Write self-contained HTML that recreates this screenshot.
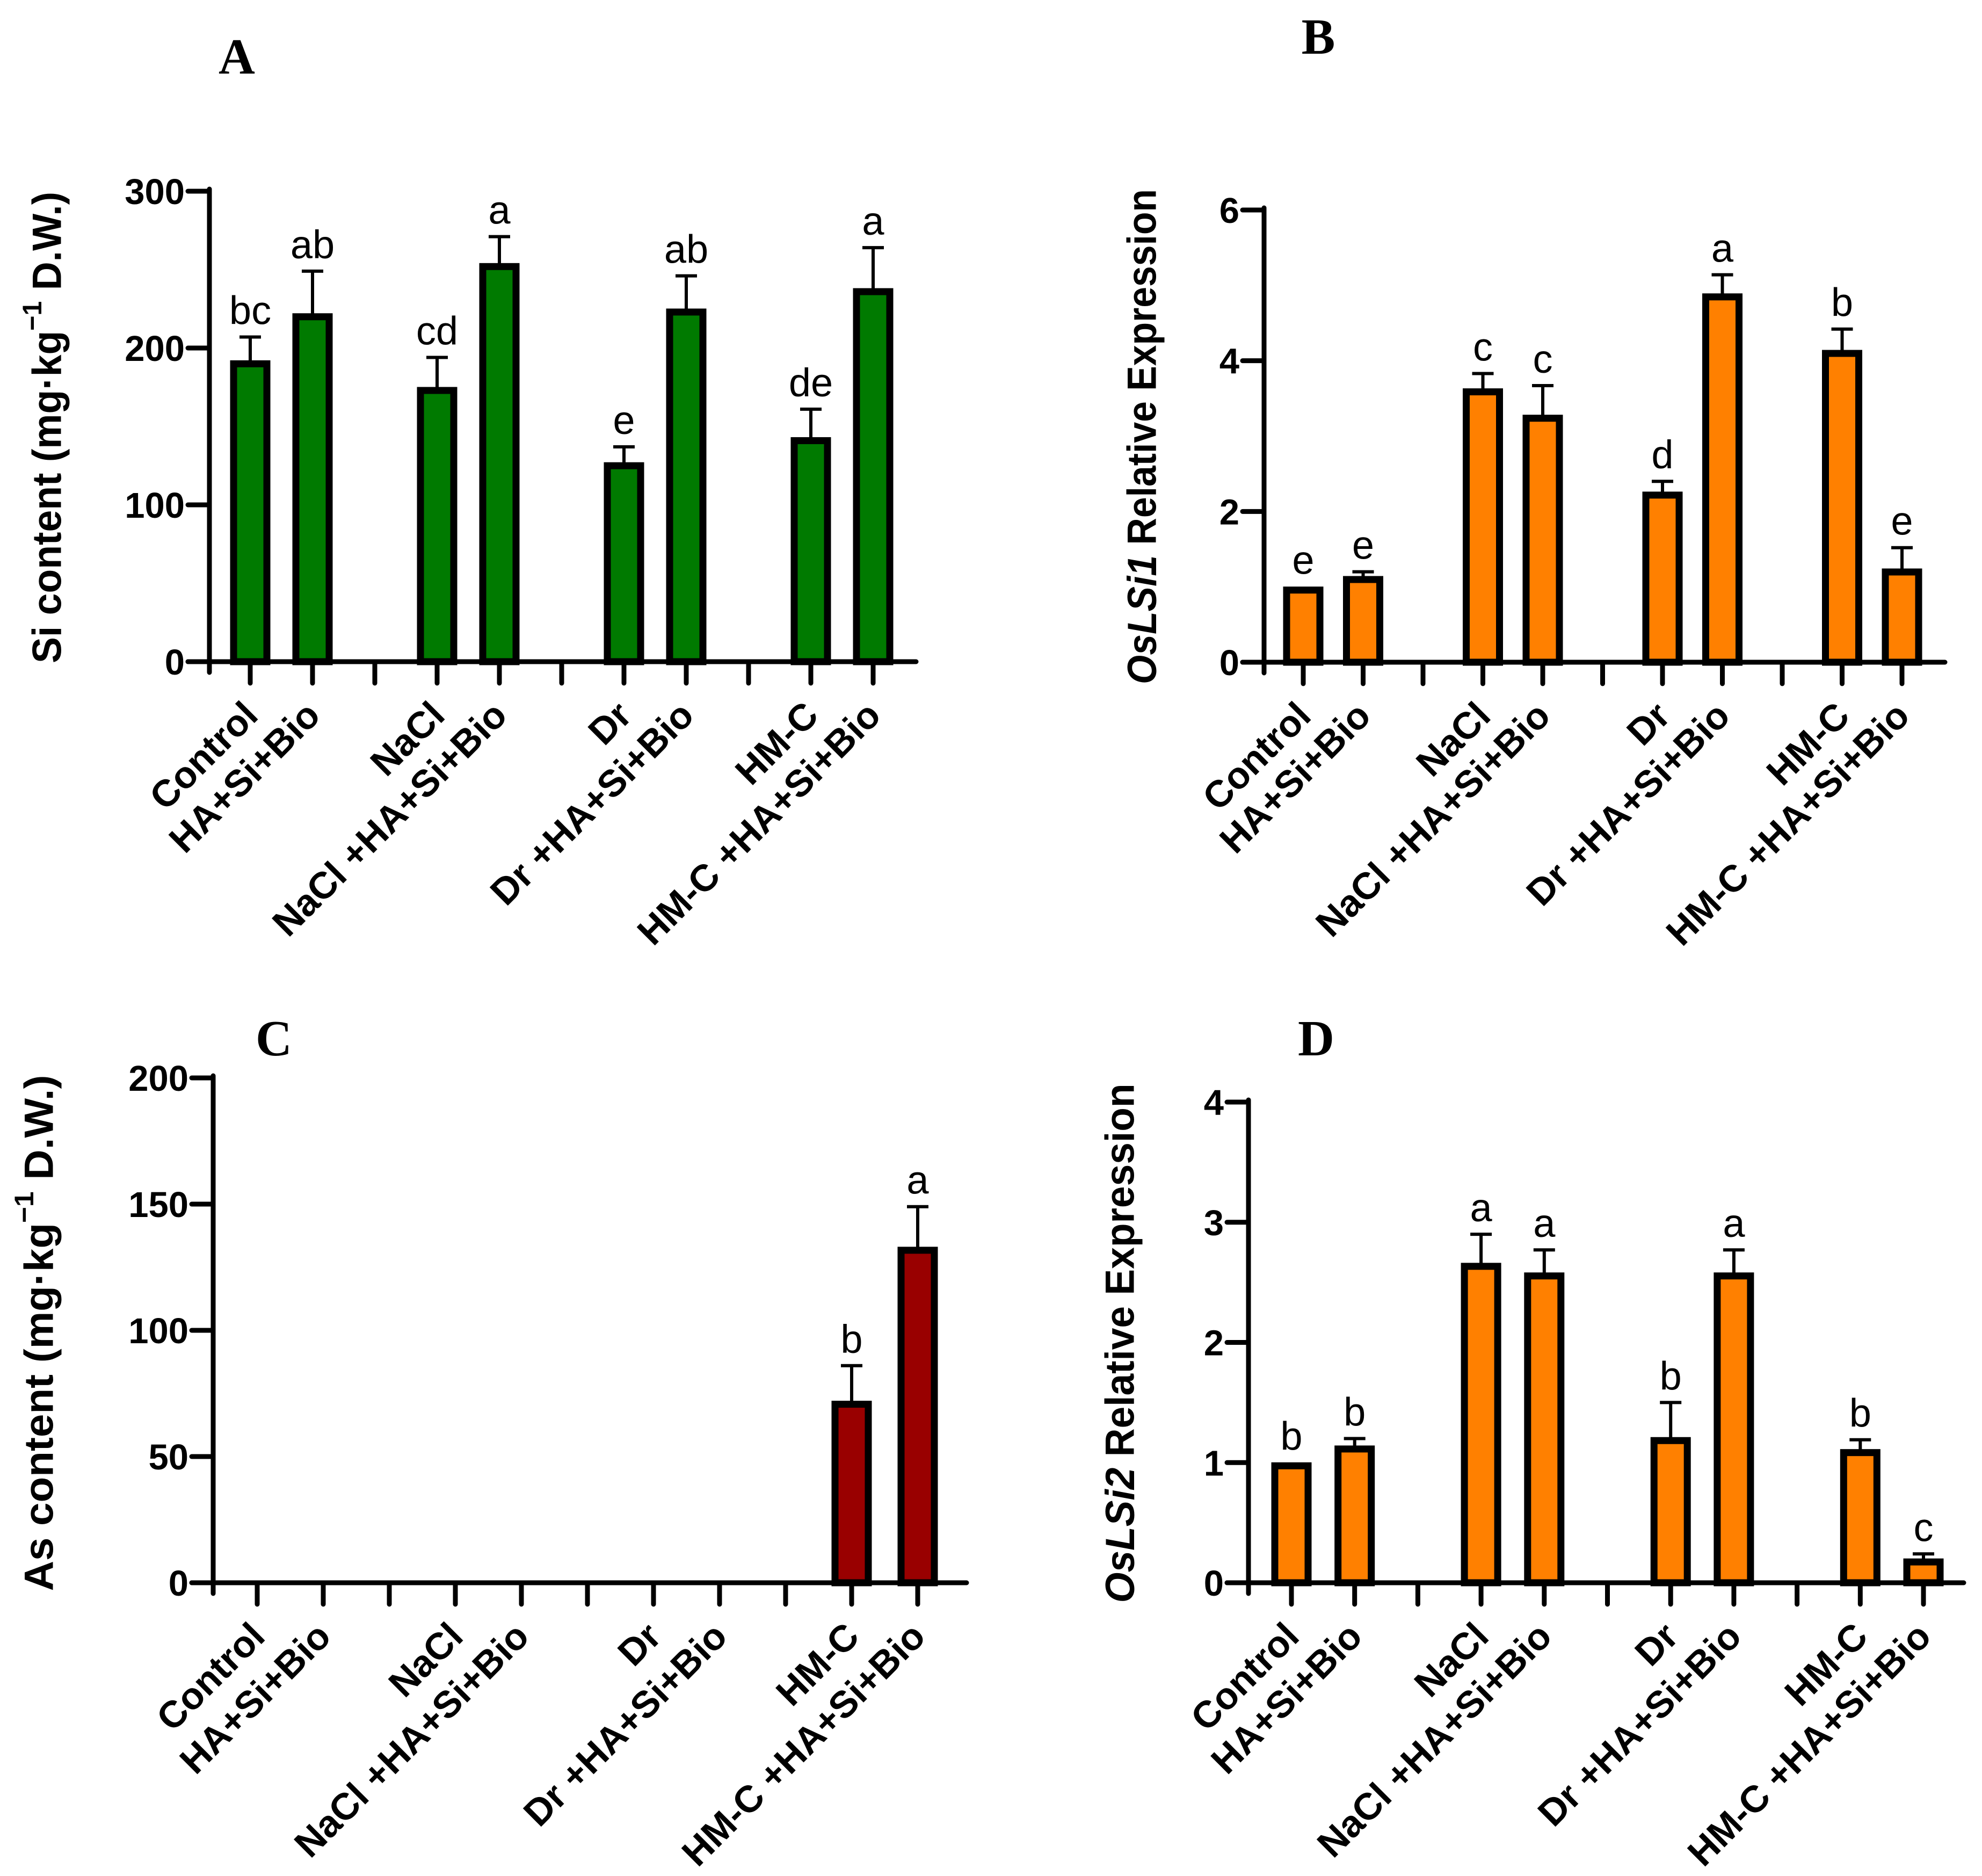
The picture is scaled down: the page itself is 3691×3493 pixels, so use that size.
<!DOCTYPE html>
<html><head><meta charset="utf-8"><style>
html,body{margin:0;padding:0;background:#fff}
svg{display:block}
</style></head><body>
<svg id="fig" width="3691" height="3493" viewBox="0 0 3691 3493" xmlns="http://www.w3.org/2000/svg" font-family="Liberation Sans, Arial, sans-serif"></svg>
<script>
const categories = ["Control","HA+Si+Bio","NaCl","NaCl +HA+Si+Bio","Dr","Dr +HA+Si+Bio","HM-C","HM-C +HA+Si+Bio"];
const siValues = [192,222,175,254,127,225,143,238];
const siErrTop = [207,249,194,271,137,246,161,264];
const siLetters = ["bc","ab","cd","a","e","ab","de","a"];
const siTicks = [0,100,200,300];
const lsi1Values = [1.0,1.14,3.63,3.28,2.26,4.89,4.14,1.24];
const lsi1ErrTop = [1.0,1.2,3.83,3.67,2.4,5.14,4.42,1.52];
const lsi1Letters = ["e","e","c","c","d","a","b","e"];
const lsi1Ticks = [0,2,4,6];
const asValues = [0,0,0,0,0,0,72,133];
const asErrTop = [0,0,0,0,0,0,86,149];
const asLetters = ["","","","","","","b","a"];
const asTicks = [0,50,100,150,200];
const lsi2Values = [1.0,1.14,2.66,2.58,1.21,2.58,1.11,0.2];
const lsi2ErrTop = [1.0,1.2,2.9,2.77,1.5,2.77,1.19,0.24];
const lsi2Letters = ["b","b","a","a","b","a","b","c"];
const lsi2Ticks = [0,1,2,3,4];

const NS="http://www.w3.org/2000/svg";
const svg=document.getElementById('fig');
function mk(tag,attrs,parent){const e=document.createElementNS(NS,tag);for(const k in attrs)e.setAttribute(k,attrs[k]);(parent||svg).appendChild(e);return e;}

function panel(cfg){
  const g=mk('g',{});
  
  
  const ymax=cfg.ticks[cfg.ticks.length-1];
  const yS=v=>cfg.y0-(cfg.y0-cfg.yTop)*v/ymax;
  const slots=[0,1,3,4,6,7,9,10];
  const xS=i=>cfg.t0+cfg.step*slots[i];
  const L=mk('text',{x:cfg.lx,y:cfg.ly,style:'font-family:"Liberation Serif",serif;font-weight:bold;font-size:94px','text-anchor':'middle','dominant-baseline':'central'},g);
  L.textContent=cfg.letter;
  
  
  for(let i=0;i<categories.length;i++){
    const v=cfg.values[i]; if(v<=0) continue;
    const cx=xS(i), top=yS(v), et=yS(cfg.err[i]);
    if(cfg.err[i]>v){
      const eb=mk('path',{d:`M${cx},${top} V${et} M${cx-20},${et} H${cx+20}`,stroke:'#000','stroke-width':6,fill:'none'},g);
      
      
    }
    const r=mk('rect',{x:cx-31,y:top+6,width:62,height:cfg.y0-top-6,fill:cfg.color,stroke:'#000','stroke-width':13},g);
    
    
    if(cfg.letters[i]){
      const t=mk('text',{x:cx,y:et-24,'font-size':74,'text-anchor':'middle'},g);
      t.textContent=cfg.letters[i];
      
      
    }
  }
  const ax=mk('path',{d:`M${cfg.ax},${cfg.yTop-4} V${cfg.y0+20} M${cfg.ax-40},${cfg.y0} H${cfg.xEnd}`,stroke:'#000','stroke-width':9,fill:'none','stroke-linecap':'round'},g);
  
  
  cfg.ticks.forEach(tv=>{
    const y=yS(tv);
    const tk=mk('line',{x1:cfg.ax-40,x2:cfg.ax,y1:y,y2:y,stroke:'#000','stroke-width':9,'stroke-linecap':'round'},g);
    
    
    const t=mk('text',{x:cfg.ax-46,y:y+24,'font-size':67,'font-weight':'bold','text-anchor':'end'},g);
    t.textContent=tv;
    
    
  });
  for(let s=0;s<=10;s++){
    const x=cfg.t0+cfg.step*s;
    const tk=mk('line',{x1:x,x2:x,y1:cfg.y0,y2:cfg.y0+40,stroke:'#000','stroke-width':9,'stroke-linecap':'round'},g);
    
    
  }
  categories.forEach((c,i)=>{
    const x=xS(i)+18, y=cfg.y0+104;
    const t=mk('text',{x:x,y:y,'font-size':70,'font-weight':'bold','text-anchor':'end',transform:`rotate(-45 ${x} ${y})`},g);
    t.textContent=c;
    
    
  });
  const yt=mk('text',{x:0,y:0,'font-size':76,'font-weight':'bold','text-anchor':'middle','dominant-baseline':'central',textLength:cfg.tl,lengthAdjust:'spacingAndGlyphs',transform:`translate(${cfg.tx},${cfg.ty}) rotate(-90)`},g);
  yt.innerHTML=cfg.title;
  
  
}

panel({name:'panel-a-si-content',letter:'A',lx:441,ly:106,values:siValues,err:siErrTop,letters:siLetters,ticks:siTicks,
  color:'#007a00',ax:390,y0:1232,yTop:356,xEnd:1706,t0:466,step:116,tx:88,ty:796,tl:878,
  title:'Si content (mg·kg<tspan baseline-shift="super" font-size="50">−1</tspan> D.W.)'});
panel({name:'panel-b-oslsi1',letter:'B',lx:2455,ly:69,values:lsi1Values,err:lsi1ErrTop,letters:lsi1Letters,ticks:lsi1Ticks,
  color:'#ff8000',ax:2354,y0:1233,yTop:391,xEnd:3622,t0:2427,step:111.5,tx:2127,ty:813,tl:922,
  title:'<tspan font-style="italic">OsLSi1</tspan> Relative  Expression'});
panel({name:'panel-c-as-content',letter:'C',lx:510,ly:1934,values:asValues,err:asErrTop,letters:asLetters,ticks:asTicks,
  color:'#990000',ax:397,y0:2947,yTop:2007,xEnd:1800,t0:479,step:123,tx:73,ty:2482,tl:961,
  title:'As content (mg·kg<tspan baseline-shift="super" font-size="50">−1</tspan> D.W.)'});
panel({name:'panel-d-oslsi2',letter:'D',lx:2451,ly:1934,values:lsi2Values,err:lsi2ErrTop,letters:lsi2Letters,ticks:lsi2Ticks,
  color:'#ff8000',ax:2325,y0:2947,yTop:2052,xEnd:3657,t0:2405,step:117.7,tx:2086,ty:2501,tl:967,
  title:'<tspan font-style="italic">OsLSi2</tspan> Relative  Expression'});
</script>
</body></html>
